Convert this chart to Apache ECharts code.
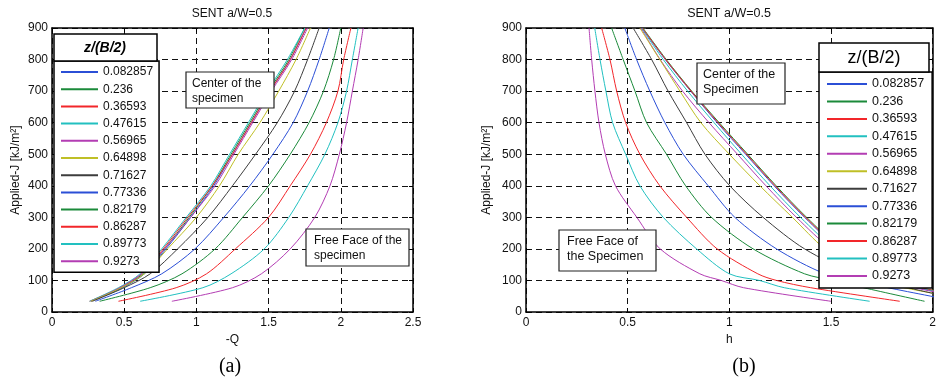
<!DOCTYPE html>
<html><head><meta charset="utf-8">
<script src="https://cdn.jsdelivr.net/npm/echarts@6/dist/echarts.min.js"></script>
<style>html,body{margin:0;padding:0;background:#fff}#c{width:939px;height:378px}</style>
</head><body><div id="c"></div>
<script>
// ---- data ----
const seriesNames = ['0.082857','0.236','0.36593','0.47615','0.56965','0.64898','0.71627','0.77336','0.82179','0.86287','0.89773','0.9273'];
const xTicksA = [0, 0.5, 1, 1.5, 2, 2.5];
const xTicksB = [0, 0.5, 1, 1.5, 2];
const yTicks = [0, 100, 200, 300, 400, 500, 600, 700, 800, 900];

// (a) -Q at applied J levels
const jLeft = [34, 77, 121, 200, 300, 400, 500, 600, 700, 800, 900];
const qA1  = [0.27, 0.49, 0.64, 0.79, 0.96, 1.12, 1.25, 1.38, 1.51, 1.65, 1.76];
const qA2  = [0.27, 0.48, 0.63, 0.78, 0.95, 1.11, 1.24, 1.37, 1.50, 1.64, 1.75];
const qA3  = [0.26, 0.47, 0.62, 0.77, 0.94, 1.11, 1.25, 1.38, 1.51, 1.65, 1.76];
const qA4  = [0.26, 0.46, 0.61, 0.76, 0.93, 1.10, 1.23, 1.36, 1.49, 1.63, 1.75];
const qA5  = [0.27, 0.47, 0.62, 0.78, 0.96, 1.13, 1.26, 1.39, 1.52, 1.66, 1.77];
const qA6  = [0.27, 0.48, 0.64, 0.80, 1.00, 1.16, 1.29, 1.44, 1.57, 1.69, 1.79];
const qA7  = [0.28, 0.50, 0.68, 0.87, 1.08, 1.25, 1.41, 1.56, 1.68, 1.77, 1.85];
const qA8  = [0.30, 0.55, 0.76, 0.99, 1.19, 1.37, 1.53, 1.67, 1.77, 1.85, 1.92];
const qA9  = [0.33, 0.68, 0.90, 1.13, 1.32, 1.50, 1.65, 1.78, 1.88, 1.95, 2.00];
const qA10 = [0.46, 0.86, 1.07, 1.27, 1.50, 1.65, 1.79, 1.90, 1.98, 2.02, 2.07];
const qA11 = [0.61, 1.045, 1.24, 1.47, 1.64, 1.77, 1.89, 1.98, 2.04, 2.08, 2.12];
const qA12 = [0.83, 1.25, 1.45, 1.65, 1.82, 1.925, 1.99, 2.04, 2.08, 2.12, 2.155];

// (b) h at applied J levels
const jRight = [34, 77, 100, 121, 200, 300, 400, 500, 600, 700, 800, 900];
const hB1  = [2.30, 1.93, 1.82, 1.74, 1.54, 1.37, 1.22, 1.08, 0.94, 0.81, 0.685, 0.57];
const hB2  = [2.32, 1.94, 1.83, 1.75, 1.55, 1.38, 1.23, 1.09, 0.95, 0.815, 0.69, 0.575];
const hB3  = [2.31, 1.935, 1.825, 1.745, 1.545, 1.375, 1.225, 1.085, 0.945, 0.812, 0.687, 0.572];
const hB4  = [2.28, 1.92, 1.80, 1.72, 1.52, 1.35, 1.20, 1.06, 0.925, 0.795, 0.675, 0.568];
const hB5  = [2.25, 1.91, 1.79, 1.70, 1.50, 1.33, 1.18, 1.04, 0.90, 0.77, 0.66, 0.565];
const hB6  = [2.22, 1.86, 1.74, 1.66, 1.47, 1.31, 1.15, 1.00, 0.86, 0.757, 0.658, 0.56];
const hB7  = [2.18, 1.88, 1.76, 1.62, 1.37, 1.166, 1.002, 0.88, 0.79, 0.699, 0.618, 0.527];
const hB8  = [2.12, 1.78, 1.62, 1.47, 1.232, 1.027, 0.896, 0.773, 0.683, 0.609, 0.544, 0.486];
const hB9  = [1.96, 1.66, 1.51, 1.37, 1.117, 0.912, 0.785, 0.691, 0.593, 0.536, 0.478, 0.421];
const hB10 = [1.838, 1.40, 1.232, 1.14, 0.94, 0.79, 0.658, 0.56, 0.49, 0.446, 0.413, 0.372];
const hB11 = [1.69, 1.27, 1.148, 1.0, 0.839, 0.675, 0.56, 0.49, 0.426, 0.393, 0.364, 0.338];
const hB12 = [1.50, 1.07, 0.96, 0.855, 0.66, 0.545, 0.44, 0.39, 0.359, 0.339, 0.323, 0.31];

const curvesA = [qA1,qA2,qA3,qA4,qA5,qA6,qA7,qA8,qA9,qA10,qA11,qA12];
const curvesB = [hB1,hB2,hB3,hB4,hB5,hB6,hB7,hB8,hB9,hB10,hB11,hB12];

// ---- style ----
const FONT = '"Liberation Sans", Arial, Helvetica, sans-serif';
const SERIF = '"Liberation Serif", "Times New Roman", serif';
const colors = ['#2b4fd6','#1b8a3a','#f2262a','#22c0c0','#b33db3','#bfbf26','#3d3d3d','#2b4fd6','#1b8a3a','#f2262a','#22c0c0','#b33db3'];

function mkSeries(vals, jArr, ai, idx) {
  return {
    type: 'line', name: seriesNames[idx], xAxisIndex: ai, yAxisIndex: ai,
    data: vals.map((v, k) => [v, jArr[k]]),
    showSymbol: false, symbol: 'none', smooth: 0.3, clip: true,
    lineStyle: { width: 1, color: colors[idx] }, itemStyle: { color: colors[idx] },
    z: 3, animation: false
  };
}
const series = [];
curvesA.forEach((c, i) => series.push(mkSeries(c, jLeft, 0, i)));
curvesB.forEach((c, i) => series.push(mkSeries(c, jRight, 1, i)));

function mainX(grid, ticks, name) {
  return {
    type: 'value', gridIndex: grid, position: 'bottom',
    min: ticks[0], max: ticks[ticks.length - 1], interval: 0.5,
    name: name, nameLocation: 'middle', nameGap: 20,
    nameTextStyle: { fontSize: 12, fontFamily: FONT, color: '#111' },
    axisLine: { show: true, onZero: false, lineStyle: { color: '#000', width: 1.5 } },
    axisTick: { show: true, inside: true, length: 4, lineStyle: { color: '#000' } },
    axisLabel: { show: true, fontSize: 12, fontFamily: FONT, color: '#111', margin: 5, showMinLabel: true, showMaxLabel: true },
    splitLine: { show: true, lineStyle: { color: '#111', type: [6, 4], width: 1 } }
  };
}
function mainY(grid, gap) {
  return {
    type: 'value', gridIndex: grid, position: 'left',
    min: yTicks[0], max: yTicks[yTicks.length - 1], interval: 100,
    name: 'Applied-J [kJ/m²]', nameLocation: 'middle', nameGap: gap,
    nameTextStyle: { fontSize: 12, fontFamily: FONT, color: '#111' },
    axisLine: { show: true, onZero: false, lineStyle: { color: '#000', width: 1.5 } },
    axisTick: { show: true, inside: true, length: 4, lineStyle: { color: '#000' } },
    axisLabel: { show: true, fontSize: 12, fontFamily: FONT, color: '#111', margin: 4, showMinLabel: true, showMaxLabel: true },
    splitLine: { show: true, lineStyle: { color: '#111', type: [6, 4], width: 1 } }
  };
}
function boxX(grid, ticks) {
  return {
    type: 'value', gridIndex: grid, position: 'top',
    min: ticks[0], max: ticks[ticks.length - 1], interval: 0.5,
    axisLine: { show: true, onZero: false, lineStyle: { color: '#000', width: 1.5 } },
    axisTick: { show: true, inside: true, length: 4, lineStyle: { color: '#000' } },
    axisLabel: { show: false }, splitLine: { show: false }
  };
}
function boxY(grid) {
  return {
    type: 'value', gridIndex: grid, position: 'right',
    min: yTicks[0], max: yTicks[yTicks.length - 1], interval: 100,
    axisLine: { show: true, onZero: false, lineStyle: { color: '#000', width: 1.5 } },
    axisTick: { show: true, inside: true, length: 4, lineStyle: { color: '#000' } },
    axisLabel: { show: false }, splitLine: { show: false }
  };
}

function legendCfg(left, top, pad, iw, gap, fs) {
  return {
    data: seriesNames, orient: 'vertical', left: left, top: top, padding: pad,
    itemWidth: iw, itemHeight: 2, itemGap: gap, icon: 'rect', selectedMode: false,
    backgroundColor: '#fff', borderColor: '#000', borderWidth: 1.5, borderRadius: 0,
    textStyle: { fontSize: fs, fontFamily: FONT, color: '#111', lineHeight: 14 }
  };
}

function annot(x, y, w, h, tx, ty, text, fs) {
  return [
    { type: 'rect', z: 50, shape: { x: x, y: y, width: w, height: h },
      style: { fill: '#fff', stroke: '#222', lineWidth: 1.2 } },
    { type: 'text', z: 51, x: tx, y: ty,
      style: { text: text, fontSize: fs, fontFamily: FONT, fill: '#111', lineHeight: 15, verticalAlign: 'top', align: 'left' } }
  ];
}

const graphics = [
  { type: 'text', z: 50, x: 232, y: 14, style: { text: 'SENT a/W=0.5', fontSize: 12, fontFamily: FONT, fill: '#111', align: 'center', verticalAlign: 'middle' } },
  { type: 'text', z: 50, x: 729, y: 14, style: { text: 'SENT a/W=0.5', fontSize: 12.5, fontFamily: FONT, fill: '#111', align: 'center', verticalAlign: 'middle' } },
  { type: 'text', z: 50, x: 230, y: 367, style: { text: '(a)', fontSize: 20, fontFamily: SERIF, fill: '#000', align: 'center', verticalAlign: 'middle' } },
  { type: 'text', z: 50, x: 744, y: 367, style: { text: '(b)', fontSize: 20, fontFamily: SERIF, fill: '#000', align: 'center', verticalAlign: 'middle' } },
  // legend title cells
  { type: 'rect', z: 50, shape: { x: 54, y: 34, width: 103, height: 27 }, style: { fill: '#fff', stroke: '#000', lineWidth: 1.5 } },
  { type: 'text', z: 51, x: 105, y: 48, style: { text: 'z/(B/2)', fontSize: 14, fontWeight: 'bold', fontStyle: 'italic', fontFamily: FONT, fill: '#000', align: 'center', verticalAlign: 'middle' } },
  { type: 'rect', z: 50, shape: { x: 819, y: 43, width: 110, height: 29 }, style: { fill: '#fff', stroke: '#000', lineWidth: 1.5 } },
  { type: 'text', z: 51, x: 874, y: 58, style: { text: 'z/(B/2)', fontSize: 18, fontFamily: FONT, fill: '#000', align: 'center', verticalAlign: 'middle' } }
].concat(
  annot(186, 72, 88, 36, 192, 76.5, 'Center of the\nspecimen', 12),
  annot(306, 229, 103, 37, 314, 233, 'Free Face of the\nspecimen', 12),
  annot(697, 63, 88, 41, 703, 67.5, 'Center of the\nSpecimen', 12.5),
  annot(559, 230, 97, 41, 567, 234, 'Free Face of\nthe Specimen', 12.5)
);

const chart = echarts.init(document.getElementById('c'), null, { renderer: 'canvas' });
chart.setOption({
  animation: false,
  backgroundColor: '#fff',
  grid: [
    { left: 52, top: 28, width: 361, height: 284, containLabel: false },
    { left: 526, top: 28, width: 407, height: 284, containLabel: false }
  ],
  xAxis: [mainX(0, xTicksA, '-Q'), mainX(1, xTicksB, 'h'), boxX(0, xTicksA), boxX(1, xTicksB)],
  yAxis: [mainY(0, 30), mainY(1, 33), boxY(0), boxY(1)],
  legend: [
    legendCfg(54, 61, [4, 6, 4, 7], 37, 3.2, 12),
    legendCfg(819, 72, [5, 8, 5, 8], 40, 3.45, 12.5)
  ],
  series: series,
  graphic: graphics
});
</script>
</body></html>
